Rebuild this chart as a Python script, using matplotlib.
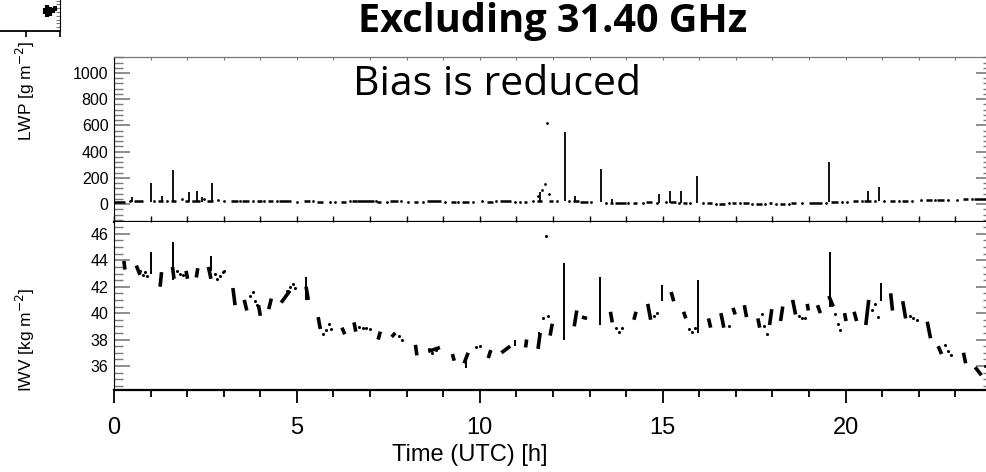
import matplotlib

matplotlib.use("Agg")
import matplotlib.pyplot as plt
from matplotlib.ticker import MultipleLocator, NullLocator

plt.rcParams["font.family"] = ["Liberation Sans", "DejaVu Sans"]

# ---------------- IWV [kg m-2] ----------------
# sample clusters, drawn as short strokes (t0, v0) -> (t1, v1)
iwv_seg_t0 = [0.27, 0.61, 1.26, 1.60, 1.97, 2.25, 2.58, 3.25, 3.56, 3.95, 4.23, 4.57, 5.25, 5.58,
              6.23, 6.56, 7.22, 7.59, 8.24, 8.59, 9.25, 9.57, 10.23, 10.59, 11.25, 11.59, 11.92,
              12.58, 12.79, 13.57, 14.21, 14.59, 15.23, 15.57, 16.25, 16.59, 16.92, 17.23, 17.60,
              17.92, 18.22, 18.55, 18.95, 19.23, 19.54, 19.97, 20.23, 20.55, 21.23, 21.56, 22.23,
              22.53, 23.22, 23.54]
iwv_seg_v0 = [43.95, 43.6, 42.0, 43.5, 43.2, 42.7, 43.5, 41.9, 41.0, 40.6, 40.3, 40.8, 42.0, 39.7,
              38.9, 39.3, 38.0, 38.2, 37.6, 37.1, 36.9, 36.2, 36.6, 37.0, 37.4, 37.3, 38.3,
              39.0, 39.7, 40.1, 39.5, 40.7, 41.6, 40.1, 39.6, 40.0, 40.4, 40.6, 39.6,
              39.1, 39.4, 41.0, 40.7, 40.6, 41.3, 40.0, 40.1, 39.1, 41.5, 40.9, 39.35,
              37.5, 37.0, 35.9]
iwv_seg_t1 = [0.30, 0.71, 1.30, 1.64, 2.01, 2.29, 2.65, 3.31, 3.63, 4.00, 4.30, 4.81, 5.31, 5.64,
              6.31, 6.61, 7.28, 7.69, 8.28, 8.91, 9.30, 9.68, 10.30, 10.83, 11.28, 11.65, 11.98,
              12.65, 12.93, 13.62, 14.27, 14.67, 15.30, 15.63, 16.31, 16.67, 16.98, 17.29, 17.65,
              17.98, 18.28, 18.63, 18.98, 19.31, 19.66, 20.01, 20.30, 20.63, 21.28, 21.64, 22.32,
              22.62, 23.28, 23.71]
iwv_seg_v1 = [43.3, 42.9, 43.1, 42.6, 42.6, 43.4, 42.6, 40.6, 40.2, 39.8, 41.1, 41.7, 41.0, 38.8,
              38.4, 38.6, 38.6, 38.5, 36.8, 37.4, 36.4, 37.0, 37.2, 37.5, 38.0, 38.5, 39.2,
              40.2, 39.6, 39.3, 40.1, 39.5, 40.9, 39.6, 38.9, 38.9, 39.9, 39.7, 38.9,
              40.3, 40.5, 39.9, 40.2, 40.0, 40.5, 39.4, 39.4, 41.0, 40.2, 39.6, 38.1,
              36.9, 36.2, 35.3]

# thin vertical spikes
iwv_spike_t = [1.00, 1.60, 2.66, 5.25, 9.62, 10.96, 11.62, 12.30, 13.28, 14.97, 15.96,
               19.56, 20.96]
iwv_spike_lo = [43.0, 42.5, 43.2, 41.0, 35.85, 37.5, 37.3, 38.0, 39.1, 40.9, 38.5,
                40.5, 40.9]
iwv_spike_hi = [44.6, 45.4, 44.3, 42.7, 36.6, 38.0, 38.6, 43.8, 42.7, 42.1, 42.5,
                44.6, 42.3]

# scattered single samples
iwv_dot_t = [0.70, 0.78, 0.85, 0.90, 1.72, 1.80, 1.88, 2.75, 2.82, 2.90, 2.97, 3.02,
             3.72, 3.80, 3.85, 3.90, 4.72, 4.80, 4.90, 4.96, 5.72, 5.80, 5.87, 5.93,
             6.70, 6.80, 6.90, 7.00, 7.80, 7.88, 8.62, 8.70, 8.80, 9.90, 10.00, 11.72,
             11.85, 11.82, 13.72, 13.80, 13.88, 14.75, 14.85, 15.72, 15.80, 15.88, 16.80,
             17.72, 17.78, 17.85, 18.72, 18.80, 18.88, 19.72, 19.80, 19.85, 20.72, 20.80,
             20.88, 21.75, 21.85, 21.95, 22.72, 22.80, 22.88, 23.80]
iwv_dot_v = [43.2, 42.9, 43.1, 42.8, 43.2, 43.0, 42.9, 43.0, 42.6, 42.8, 43.1, 43.2,
             41.3, 41.6, 40.9, 40.6, 41.7, 42.0, 42.2, 41.9, 38.4, 38.7, 39.2, 38.8,
             38.95, 38.9, 38.9, 38.8, 38.3, 38.0, 37.3, 37.0, 37.2, 37.4, 37.5, 39.6,
             39.8, 45.85, 38.9, 38.6, 38.9, 39.8, 40.0, 38.8, 38.6, 38.9, 39.0,
             39.9, 39.0, 38.4, 39.8, 39.6, 39.6, 39.9, 39.2, 38.7, 40.2, 40.7,
             39.7, 39.8, 39.6, 39.5, 37.6, 37.1, 36.8, 36.0]

# ---------------- LWP [g m-2] ----------------
lwp_seg_t0 = [0.00, 0.55, 1.20, 1.55, 1.95, 2.20, 2.55, 3.20, 3.50, 3.90, 4.20, 4.50, 5.20, 5.55,
              6.20, 6.50, 6.65, 7.20, 7.55, 8.20, 8.55, 9.20, 9.50, 10.20, 10.55, 11.20, 11.55,
              11.90, 12.55, 12.75, 13.55, 13.70, 14.20, 14.55, 15.20, 15.55, 16.20, 16.55, 16.90,
              17.20, 17.55, 17.90, 18.20, 18.50, 19.00, 19.60, 20.20, 20.50, 21.20, 21.55, 22.20,
              22.50, 23.20, 23.50]
lwp_seg_t1 = [0.30, 0.80, 1.35, 1.70, 2.05, 2.35, 2.70, 3.40, 3.70, 4.05, 4.35, 4.85, 5.35, 5.70,
              6.35, 6.65, 7.10, 7.30, 7.75, 8.30, 8.95, 9.35, 9.70, 10.35, 10.85, 11.30, 11.70,
              12.00, 12.70, 12.95, 13.65, 14.00, 14.30, 14.70, 15.35, 15.65, 16.35, 16.70, 17.00,
              17.35, 17.70, 18.00, 18.35, 18.65, 19.35, 19.80, 20.35, 20.70, 21.35, 21.70, 22.35,
              22.70, 23.35, 24.00]
lwp_seg_v = [15, 22, 20, 25, 20, 25, 25, 20, 22, 20, 22, 20, 25, 18,
             18, 20, 22, 18, 20, 18, 20, 15, 15, 18, 20, 15, 25,
             20, 20, 18, 10, 5, 8, 12, 15, 10, 5, 0, 10,
             5, 0, 5, 0, 5, 10, 15, 20, 25, 25, 25, 30,
             30, 35, 35]

lwp_spike_t = [0.50, 1.02, 1.32, 1.61, 2.05, 2.28, 2.40, 2.67, 11.65, 12.33, 12.60, 13.30,
               13.60, 14.90, 15.20, 15.50, 15.93, 19.55, 20.60, 20.90]
lwp_spike_lo = [15, 15, 15, 15, 15, 15, 15, 15, 20, 20, 15, 15,
                10, 10, 10, 10, 10, 15, 20, 20]
lwp_spike_hi = [50, 164, 60, 259, 90, 99, 50, 164, 90, 552, 60, 267,
                40, 80, 100, 100, 214, 320, 100, 130]

lwp_dot_t = [0.45, 1.10, 1.45, 1.85, 2.15, 2.45, 2.85, 3.00, 3.45, 3.80, 4.10, 4.45, 5.00,
             5.45, 5.90, 6.05, 6.45, 7.15, 7.45, 7.85, 8.05, 8.45, 9.05, 9.40, 9.80, 10.05,
             10.45, 10.95, 11.10, 11.45, 11.60, 11.70, 11.78, 11.84, 11.88, 12.10, 12.45,
             13.05, 13.45, 14.05, 14.45, 14.85, 15.10, 15.45, 15.75, 16.10, 16.45, 16.80,
             17.10, 17.45, 17.80, 18.10, 18.45, 18.80, 19.45, 19.90, 20.05, 20.45, 20.80,
             21.05, 21.45, 21.80, 22.05, 22.45, 22.80, 23.05, 23.45]
lwp_dot_v = [20, 25, 22, 35, 22, 40, 30, 20, 20, 22, 20, 20, 18,
             20, 18, 18, 20, 20, 18, 20, 18, 18, 15, 15, 18, 20,
             20, 18, 18, 20, 60, 110, 150, 622, 80, 20, 20,
             15, 10, 5, 8, 10, 12, 10, 8, 5, 2, 5,
             5, 2, 0, 2, 0, 5, 10, 15, 18, 20, 25,
             25, 25, 25, 28, 30, 30, 32, 35]

# fragment of the neighbouring panel cropped at top left
frag_t = [23.55, 23.62, 23.70, 23.78, 23.86]
frag_lo = [36.2, 35.8, 36.0, 36.4, 36.6]
frag_hi = [37.0, 37.4, 37.2, 37.0, 37.3]

W, H = 987, 472
fig = plt.figure(figsize=(W / 100, H / 100), dpi=100)


def px_axes(x0, y_top, x1, y_bot):
    return fig.add_axes([x0 / W, 1 - y_bot / H, (x1 - x0) / W, (y_bot - y_top) / H])


TICK_GREY = "#7a7a7a"

ax1 = px_axes(114, 57, 992, 222)
ax2 = px_axes(114, 222, 992, 390)

# --- LWP panel
for t0, t1, v in zip(lwp_seg_t0, lwp_seg_t1, lwp_seg_v):
    ax1.plot([t0, t1], [v, v], color="black", lw=1.8, solid_capstyle="butt")
ax1.vlines(lwp_spike_t, lwp_spike_lo, lwp_spike_hi, color="black", lw=1.3)
ax1.plot(lwp_dot_t, lwp_dot_v, "o", ms=2.0, mew=0, color="black")
ax1.set_xlim(0, 24)
ax1.set_ylim(-137, 1122)
ax1.yaxis.set_major_locator(MultipleLocator(200))
ax1.yaxis.set_minor_locator(MultipleLocator(40))
ax1.xaxis.set_major_locator(MultipleLocator(1))
ax1.xaxis.set_minor_locator(NullLocator())
ax1.tick_params(axis="x", which="both", direction="in", top=True, bottom=False,
                length=1.8, width=0.8, color=TICK_GREY, labelbottom=False)

# --- IWV panel
for t0, v0, t1, v1 in zip(iwv_seg_t0, iwv_seg_v0, iwv_seg_t1, iwv_seg_v1):
    ax2.plot([t0, t1], [v0, v1], color="black", lw=2.6, solid_capstyle="butt")
ax2.vlines(iwv_spike_t, iwv_spike_lo, iwv_spike_hi, color="black", lw=1.4)
ax2.plot(iwv_dot_t, iwv_dot_v, "o", ms=2.2, mew=0, color="black")
ax2.set_xlim(0, 24)
ax2.set_ylim(34.18, 46.9)
ax2.yaxis.set_major_locator(MultipleLocator(2))
ax2.yaxis.set_minor_locator(MultipleLocator(0.5))
ax2.xaxis.set_major_locator(MultipleLocator(5))
ax2.xaxis.set_minor_locator(MultipleLocator(1))
ax2.tick_params(axis="x", which="major", direction="out", length=9.4, width=1.3,
                color="black", labelsize=17, pad=10, top=False)
ax2.tick_params(axis="x", which="minor", direction="out", length=5.0, width=1.3,
                color="black", top=False)
sec = ax2.secondary_xaxis("top")
sec.xaxis.set_major_locator(MultipleLocator(1))
sec.tick_params(axis="x", direction="out", length=4.3, width=1.0, color="black",
                labeltop=False)

for ax in (ax1, ax2):
    ax.tick_params(axis="y", which="major", direction="in", left=True, right=True,
                   length=11.5, width=1.2, color=TICK_GREY, labelsize=11.5, pad=4)
    ax.tick_params(axis="y", which="minor", direction="in", left=True, right=True,
                   length=6.5, width=1.0, color=TICK_GREY)
    ax.spines["left"].set_linewidth(0.8)
    ax.spines["right"].set_linewidth(0.8)
ax1.spines["top"].set_color("#777777")
ax1.spines["top"].set_linewidth(0.9)
ax1.spines["bottom"].set_linewidth(1.6)
ax2.spines["top"].set_visible(False)
for s in sec.spines.values():
    s.set_visible(False)
ax2.spines["bottom"].set_linewidth(1.6)

fig.text(25 / W, 1 - 91 / H, "LWP [g m$^{-2}$]", rotation=90, ha="center", va="center",
         fontsize=12.5)
fig.text(25 / W, 1 - 340 / H, "IWV [kg m$^{-2}$]", rotation=90, ha="center", va="center",
         fontsize=12.5)
fig.text(470 / W, 1 - 455 / H, "Time (UTC) [h]", ha="center", va="center", fontsize=17)

# slide overlay text
fig.text(553 / W, 1 - 32 / H, "Excluding 31.40 GHz", ha="center", va="baseline",
         fontsize=28.5, fontweight="bold", family=["Open Sans", "DejaVu Sans"])
fig.text(353 / W, 1 - 95 / H, "Bias is reduced", ha="left", va="baseline",
         fontsize=29.5, family=["Open Sans", "DejaVu Sans"])

# cropped fragment of the previous figure (top left corner)
axf = px_axes(-100, -60, 60, 31)
axf.vlines(frag_t, frag_lo, frag_hi, color="black", lw=3.0)
axf.set_xlim(24 - 160 / 34, 24)
axf.set_ylim(34, 46)
axf.xaxis.set_major_locator(MultipleLocator(1))
axf.yaxis.set_major_locator(MultipleLocator(2))
axf.yaxis.set_minor_locator(MultipleLocator(0.5))
axf.tick_params(axis="x", direction="out", length=4.3, width=1.2, labelbottom=False)
axf.tick_params(axis="y", which="both", direction="in", left=False, right=True,
                labelleft=False, length=3, width=0.8, color=TICK_GREY)
axf.spines["top"].set_visible(False)
axf.spines["left"].set_visible(False)
axf.spines["bottom"].set_linewidth(1.3)

fig.savefig("out.png", dpi=100)
